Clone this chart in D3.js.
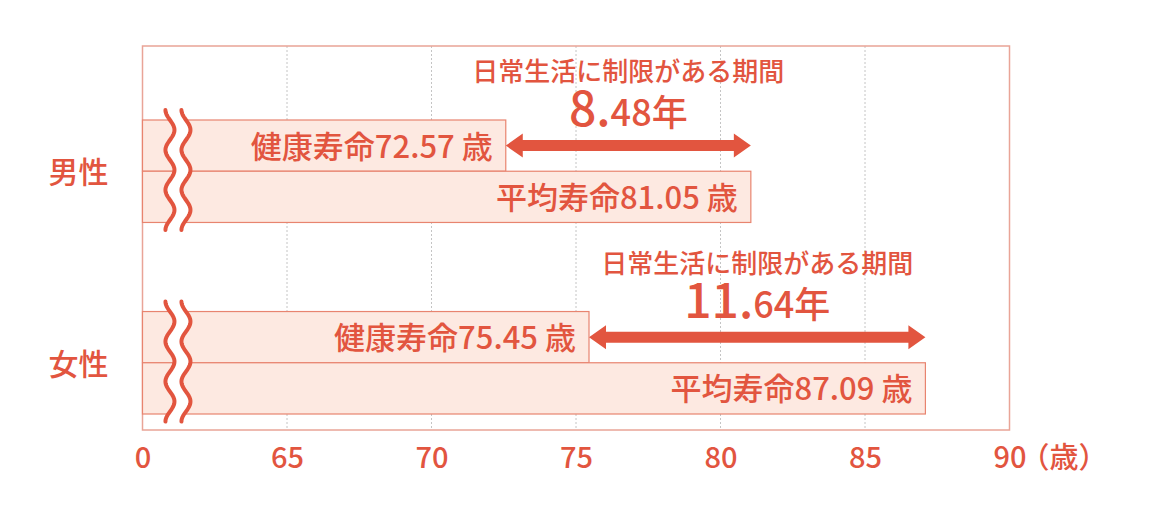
<!DOCTYPE html>
<html>
<head>
<meta charset="utf-8">
<script src="https://cdn.jsdelivr.net/npm/d3@7"></script>
<style>
	body { margin: 0; background: #ffffff; }
	svg text { font-family: "Noto Sans CJK JP", "Noto Sans", sans-serif; font-weight: 500; fill: #e2553f; }
</style>
</head>
<body>
<svg id="chart" width="1163" height="514"></svg>
<script>

// chart values
var groups = ["男性", "女性"];
var series = ["健康寿命", "平均寿命"];
var healthyAge = [72.57, 75.45];
var averageAge = [81.05, 87.09];
var tickValues = [60, 65, 70, 75, 80, 85, 90];
var tickLabels = ["0", "65", "70", "75", "80", "85", "90"];
var periodTitle = "日常生活に制限がある期間";
var unitLabel = "（歳）";


(function()
{
	var red = "#e2553f";
	var barFill = "#fde9e1";
	var barStroke = "#e8846f";
	var frameStroke = "#e9a497";

	var plot = {left: 142.5, right: 1009.5, top: 46, bottom: 430};

	var svg = d3.select("#chart");

	var x = d3.scaleLinear()
		.domain([tickValues[0], tickValues[tickValues.length - 1]])
		.range([plot.left, plot.right]);

	var y = d3.scaleBand()
		.domain(groups)
		.range([120, 414])
		.paddingInner(0.465);

	var ySub = d3.scaleBand()
		.domain(series)
		.range([0, y.bandwidth()]);

	// dotted grid
	svg.append("g")
		.selectAll("line")
		.data(tickValues.slice(1, -1))
		.enter().append("line")
		.attr("x1", function(d) { return x(d); })
		.attr("x2", function(d) { return x(d); })
		.attr("y1", plot.top)
		.attr("y2", plot.bottom)
		.attr("stroke", "#c4c4c4")
		.attr("stroke-width", 1)
		.attr("stroke-dasharray", "2,2");

	// frame
	svg.append("rect")
		.attr("x", plot.left)
		.attr("y", plot.top)
		.attr("width", plot.right - plot.left)
		.attr("height", plot.bottom - plot.top)
		.attr("fill", "none")
		.attr("stroke", frameStroke)
		.attr("stroke-width", 1.5);

	// x axis labels
	var axis = d3.axisBottom(x)
		.tickValues(tickValues)
		.tickSize(0)
		.tickPadding(0)
		.tickFormat(function(d, i) { return tickLabels[i]; });

	var axisG = svg.append("g")
		.attr("transform", "translate(0," + plot.bottom + ")")
		.call(axis);
	axisG.select(".domain").remove();
	axisG.selectAll("text")
		.attr("y", 38)
		.attr("dy", null)
		.style("font-size", "29px")
		.attr("fill", red);

	// unit goes into the last tick label, keeping "90" centred on its tick
	var lastTick = axisG.selectAll(".tick text").filter(function(d) { return d == tickValues[tickValues.length - 1]; });
	var lastW = lastTick.node().getComputedTextLength();
	lastTick.attr("text-anchor", "start").attr("x", -lastW / 2);
	lastTick.append("tspan").attr("dx", -6).text(unitLabel);

	var rows = groups.map(function(g, i)
	{
		return {group: g, values: [healthyAge[i], averageAge[i]]};
	});

	var groupG = svg.selectAll("g.group")
		.data(rows)
		.enter().append("g")
		.attr("class", "group")
		.attr("transform", function(d) { return "translate(0," + y(d.group) + ")"; });

	// category labels
	groupG.append("text")
		.attr("x", plot.left - 34)
		.attr("y", y.bandwidth() / 2 + 12)
		.attr("text-anchor", "end")
		.style("font-size", "30px")
		.text(function(d) { return d.group; });

	// bars
	groupG.selectAll("rect.bar")
		.data(function(d) { return d.values.map(function(v, j) { return {name: series[j], value: v}; }); })
		.enter().append("rect")
		.attr("class", "bar")
		.attr("x", plot.left)
		.attr("y", function(d) { return ySub(d.name); })
		.attr("width", function(d) { return x(d.value) - plot.left; })
		.attr("height", ySub.bandwidth())
		.attr("fill", barFill)
		.attr("stroke", barStroke)
		.attr("stroke-width", 1.2);

	// wavy break marks
	var breakX = x(60.95);
	var breakGap = 16;
	var amp = 4.5;
	var period = 40;

	function wave(cx, y0, y1)
	{
		var pts = [];
		for (var yy = y0; yy <= y1 + 0.01; yy += 1)
		{
			pts.push([cx - amp * Math.cos(2 * Math.PI * (yy - y0) / period), yy]);
		}
		return pts;
	}

	groupG.each(function()
	{
		var g = d3.select(this);
		var y0 = -10;
		var y1 = y0 + 3 * period;
		var left = wave(breakX, y0, y1);
		var right = wave(breakX + breakGap, y0, y1);

		g.append("path")
			.attr("d", d3.line()(left.concat(right.slice().reverse())) + "Z")
			.attr("fill", "#ffffff");

		[left, right].forEach(function(p)
		{
			g.append("path")
				.attr("d", d3.line()(p))
				.attr("fill", "none")
				.attr("stroke", red)
				.attr("stroke-width", 4)
				.attr("stroke-linecap", "round");
		});
	});

	// bar labels
	groupG.selectAll("text.barLabel")
		.data(function(d) { return d.values.map(function(v, j) { return {name: series[j], value: v}; }); })
		.enter().append("text")
		.attr("class", "barLabel")
		.attr("x", function(d) { return x(d.value) - 13; })
		.attr("y", function(d) { return ySub(d.name) + ySub.bandwidth() / 2 + 12; })
		.attr("text-anchor", "end")
		.style("font-size", "31px")
		.text(function(d) { return d.name + d3.format(".2f")(d.value) + " 歳"; });

	// double arrows between healthy and average
	var shaftH = 5.5;
	var headH = 12;
	var headL = 17;

	groupG.append("path")
		.attr("d", function(d)
		{
			var x1 = x(d.values[0]);
			var x2 = x(d.values[1]);
			var cy = ySub(series[0]) + ySub.bandwidth() / 2;
			return "M" + x1 + "," + cy +
				"L" + (x1 + headL) + "," + (cy - headH) +
				"L" + (x1 + headL) + "," + (cy - shaftH) +
				"L" + (x2 - headL) + "," + (cy - shaftH) +
				"L" + (x2 - headL) + "," + (cy - headH) +
				"L" + x2 + "," + cy +
				"L" + (x2 - headL) + "," + (cy + headH) +
				"L" + (x2 - headL) + "," + (cy + shaftH) +
				"L" + (x1 + headL) + "," + (cy + shaftH) +
				"L" + (x1 + headL) + "," + (cy + headH) + "Z";
		})
		.attr("fill", red);

	// period annotation
	groupG.append("text")
		.attr("x", function(d) { return (x(d.values[0]) + x(d.values[1])) / 2; })
		.attr("y", -39)
		.attr("text-anchor", "middle")
		.style("font-size", "26px")
		.text(periodTitle);

	var num = groupG.append("text")
		.attr("x", function(d) { return (x(d.values[0]) + x(d.values[1])) / 2; })
		.attr("y", 6)
		.attr("text-anchor", "middle");

	num.append("tspan")
		.style("font-size", "48px")
		.text(function(d) { return d3.format(".2f")(d.values[1] - d.values[0]).split(".")[0] + "."; });

	num.append("tspan")
		.style("font-size", "36px")
		.text(function(d) { return d3.format(".2f")(d.values[1] - d.values[0]).split(".")[1] + "年"; });

})();

</script>
</body>
</html>
